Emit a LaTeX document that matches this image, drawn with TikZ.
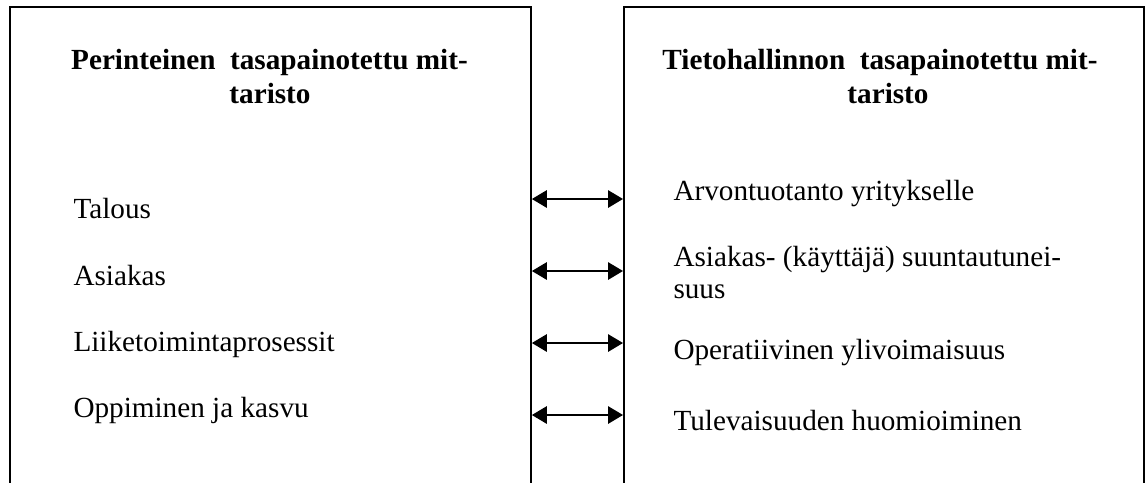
\documentclass[tikz,border=0pt]{standalone}
\usepackage{fontspec}
\setmainfont{Liberation Serif}
\usetikzlibrary{arrows.meta}
\begin{document}
\begin{tikzpicture}[x=0.4pt,y=-0.4pt,
  panel/.style={draw,line width=0.75pt,rectangle,inner sep=0pt,anchor=north west,minimum height=200pt},
  txt/.style={inner sep=0pt,font=\fontsize{11.68pt}{13.6pt}\selectfont},
  head/.style={txt,anchor=base,font=\fontsize{11.68pt}{13.6pt}\selectfont\bfseries},
  item/.style={txt,anchor=base west},
  link/.style={line width=0.6pt,{Triangle[length=6pt,width=7pt]}-{Triangle[length=6pt,width=7pt]}}]
\useasboundingbox (0,0) rectangle (1145,482);
\clip (0,0) rectangle (1145,482);

% the two panels, open past the lower edge
\node[panel,minimum width=208.4pt] (L) at (9,6) {};
\node[panel,minimum width=208pt] (R) at (623,6) {};

% headings
\node[head] (lh1) at (269.5,69) {Perinteinen\ \ tasapainotettu mit-};
\node[head] (lh2) at (270,103) {taristo};
\node[head] (rh1) at (880,69) {Tietohallinnon\ \ tasapainotettu mit-};
\node[head] (rh2) at (888,103) {taristo};

% traditional perspectives
\node[item] (l1) at (73,218) {Talous};
\node[item] (l2) at (73,285) {Asiakas};
\node[item] (l3) at (73,351) {Liiketoimintaprosessit};
\node[item] (l4) at (73,417) {Oppiminen ja kasvu};

% IT perspectives
\node[item] (r1) at (673,200) {Arvontuotanto yritykselle};
\node[item] (r2a) at (673,266) {Asiakas- (käyttäjä) suuntautunei-};
\node[item] (r2b) at (673,298) {suus};
\node[item] (r3) at (673,359) {Operatiivinen ylivoimaisuus};
\node[item] (r4) at (673,430) {Tulevaisuuden huomioiminen};

% two-way links between the panels
\foreach \i/\y in {1/199,2/271,3/343,4/415}{
  \coordinate (w\i) at (L.east |- 0,\y);
  \coordinate (e\i) at (R.west |- 0,\y);
  \draw[link] (w\i) -- (e\i);
}
\end{tikzpicture}
\end{document}
